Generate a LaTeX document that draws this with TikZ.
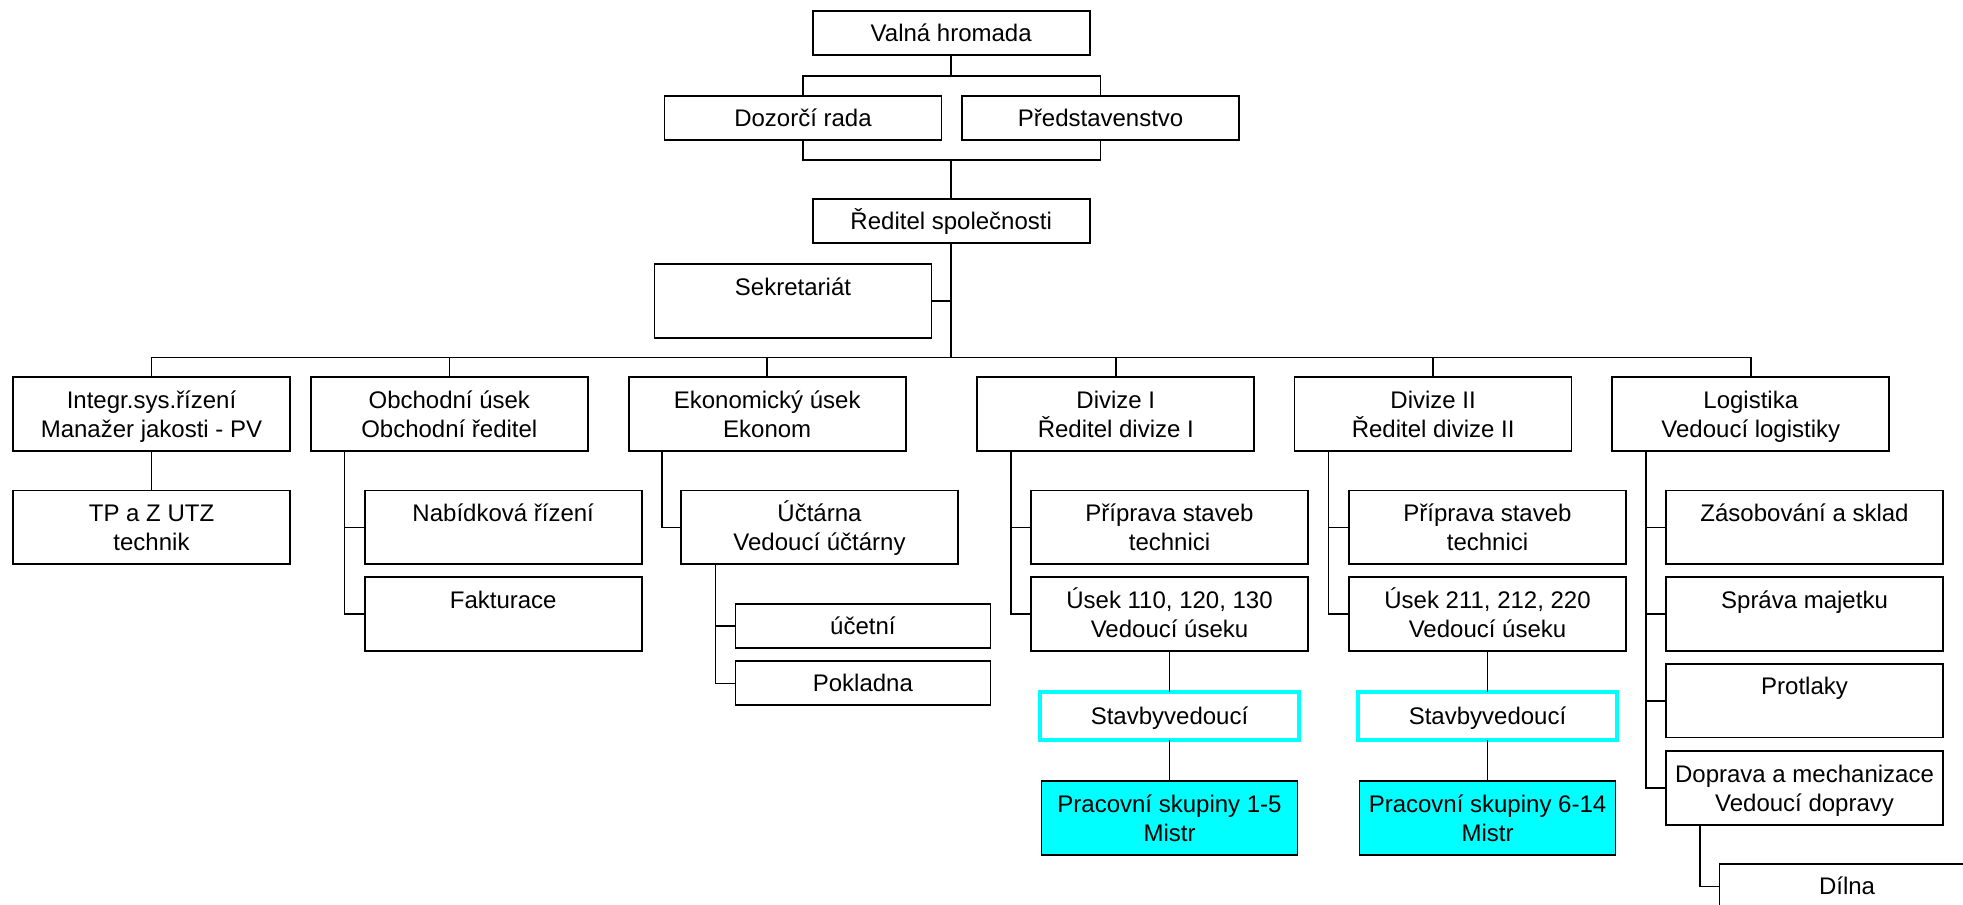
\documentclass[tikz,border=0pt]{standalone}
\usepackage{fontspec}
\setmainfont{Liberation Sans}
\usetikzlibrary{calc}
\definecolor{aqua}{RGB}{0,255,255}
\newcommand\mystrut{\rule[-2.95pt]{0pt}{14.5pt}}
\begin{document}
\begin{tikzpicture}[x=0.5pt,y=-0.5pt,
  every node/.style={font=\fontsize{12pt}{14.5pt}\selectfont},
  box/.style={draw=black, line width=0.85pt, fill=white, minimum width=138.5pt,
    minimum height=22pt, inner sep=0pt, outer sep=0pt, align=center},
  tall/.style={box, minimum height=36.7pt},
  small/.style={box, minimum width=127.5pt},
  stav/.style={box, draw=aqua, line width=2.2pt, minimum width=129.5pt, minimum height=23.75pt},
  prac/.style={box, fill=aqua, minimum width=128pt, minimum height=37pt},
  link/.style={line width=0.8pt, draw=black}]
\useasboundingbox (0,0) rectangle (1963,904);
\fill[white] (0,0) rectangle (1963,904);
\clip (0,0) rectangle (1963,904);

% top
\node[box] (valna) at (951.2,33) {\mystrut Valná hromada};
\node[box] (dozorci) at (803,118) {\mystrut Dozorčí rada};
\node[box] (predst) at (1100.6,118) {\mystrut Představenstvo};
\node[box] (reditel) at (951.2,221) {\mystrut Ředitel společnosti};
\node[tall] (sekret) at (793,301) {\mystrut Sekretariát\\\mystrut};

% level 2
\node[tall] (integr) at (151.5,414) {\mystrut Integr.sys.řízení\\\mystrut Manažer jakosti - PV};
\node[tall] (obch) at (449.3,414) {\mystrut Obchodní úsek\\\mystrut Obchodní ředitel};
\node[tall] (ekon) at (767.2,414) {\mystrut Ekonomický úsek\\\mystrut Ekonom};
\node[tall] (div1) at (1115.8,414) {\mystrut Divize I\\\mystrut Ředitel divize I};
\node[tall] (div2) at (1433.1,414) {\mystrut Divize II\\\mystrut Ředitel divize II};
\node[tall] (logist) at (1750.8,414) {\mystrut Logistika\\\mystrut Vedoucí logistiky};

% level 3+
\node[tall] (tp) at (151.5,527.3) {\mystrut TP a Z UTZ\\\mystrut technik};
\node[tall] (nabid) at (503.2,527.3) {\mystrut Nabídková řízení\\\mystrut};
\node[tall] (faktur) at (503.2,614) {\mystrut Fakturace\\\mystrut};
\node[tall] (uctarna) at (819.5,527.3) {\mystrut Účtárna\\\mystrut Vedoucí účtárny};
\node[small] (ucetni) at (862.9,625.7) {\mystrut účetní};
\node[small] (pokladna) at (862.9,683.3) {\mystrut Pokladna};

\node[tall] (prip1) at (1169.5,527.3) {\mystrut Příprava staveb\\\mystrut technici};
\node[tall] (usek1) at (1169.5,614) {\mystrut Úsek 110, 120, 130\\\mystrut Vedoucí úseku};
\node[stav] (stav1) at (1169.5,716) {\mystrut Stavbyvedoucí};
\node[prac] (prac1) at (1169.5,818) {\mystrut Pracovní skupiny 1-5\\\mystrut Mistr};

\node[tall] (prip2) at (1487.5,527.3) {\mystrut Příprava staveb\\\mystrut technici};
\node[tall] (usek2) at (1487.5,614) {\mystrut Úsek 211, 212, 220\\\mystrut Vedoucí úseku};
\node[stav] (stav2) at (1487.5,716) {\mystrut Stavbyvedoucí};
\node[prac] (prac2) at (1487.5,818) {\mystrut Pracovní skupiny 6-14\\\mystrut Mistr};

\node[tall] (zasob) at (1804.5,527.3) {\mystrut Zásobování a sklad\\\mystrut};
\node[tall] (sprava) at (1804.5,614) {\mystrut Správa majetku\\\mystrut};
\node[tall] (protl) at (1804.5,700.8) {\mystrut Protlaky\\\mystrut};
\node[tall] (doprava) at (1804.5,788) {\mystrut Doprava a mechanizace\\\mystrut Vedoucí dopravy};
\node[small] (dilna) at (1847,886.3) {\mystrut Dílna};

% bus coordinates
\coordinate (b1) at (951.2,76);
\coordinate (b2) at (951.2,160);
\coordinate (b3) at (951.2,357.5);

% connectors top
\draw[link] (valna.south) -- (b1);
\draw[link] (dozorci.north) -- (dozorci.north |- b1) -- (predst.north |- b1) -- (predst.north);
\draw[link] (dozorci.south) -- (dozorci.south |- b2) -- (predst.south |- b2) -- (predst.south);
\draw[link] (b2) -- (reditel.north);
\draw[link] (reditel.south) -- (b3);
\draw[link] (sekret.east) -- (sekret.east -| b3);
\draw[link] (integr.north) -- (integr.north |- b3) -- (logist.north |- b3) -- (logist.north);
\foreach \n in {obch,ekon,div1,div2} \draw[link] (\n.north) -- (\n.north |- b3);

% subtrees
\draw[link] (integr.south) -- (tp.north);
\draw[link] ([xshift=16.9pt]obch.south west) |- (faktur.west);
\draw[link] (nabid.west) -| ([xshift=16.9pt]obch.south west);
\draw[link] ([xshift=16.6pt]ekon.south west) |- (uctarna.west);
\draw[link] ([xshift=17.3pt]uctarna.south west) |- (pokladna.west);
\draw[link] (ucetni.west) -| ([xshift=17.3pt]uctarna.south west);
\draw[link] ([xshift=16.95pt]div1.south west) |- (usek1.west);
\draw[link] (prip1.west) -| ([xshift=16.95pt]div1.south west);
\draw[link] ([xshift=16.95pt]div2.south west) |- (usek2.west);
\draw[link] (prip2.west) -| ([xshift=16.95pt]div2.south west);
\draw[link] (usek1.south) -- (stav1.north);
\draw[link] (stav1.south) -- (prac1.north);
\draw[link] (usek2.south) -- (stav2.north);
\draw[link] (stav2.south) -- (prac2.north);
\draw[link] ([xshift=16.9pt]logist.south west) |- (doprava.west);
\draw[link] (zasob.west) -| ([xshift=16.9pt]logist.south west);
\draw[link] (sprava.west) -| ([xshift=16.9pt]logist.south west);
\draw[link] (protl.west) -| ([xshift=16.9pt]logist.south west);
\draw[link] ([xshift=17pt]doprava.south west) |- (dilna.west);
\end{tikzpicture}
\end{document}
